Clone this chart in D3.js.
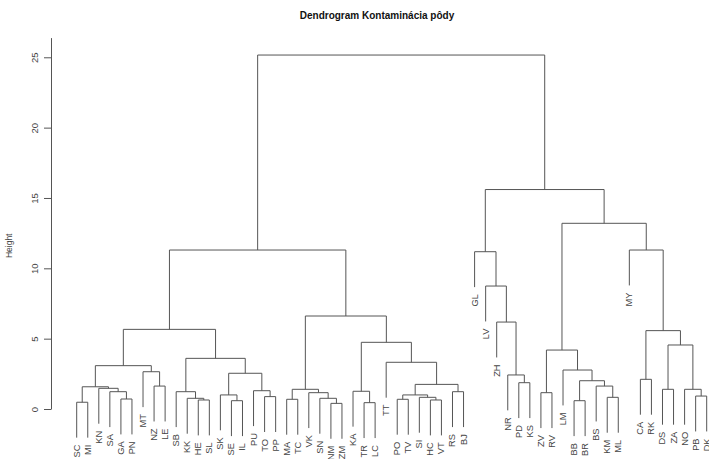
<!DOCTYPE html>
<html>
<head>
<meta charset="utf-8">
<script src="https://cdn.jsdelivr.net/npm/d3@7"></script>
<style>
  html, body { margin: 0; padding: 0; background: #fff; }
  svg { display: block; }
</style>
</head>
<body>
<script>
// ---- data ----
const title = "Dendrogram Kontaminácia pôdy";
const yLabel = "Height";
const leafOrder = ["SC","MI","KN","SA","GA","PN","MT","NZ","LE","SB","KK","HE","SL","SK","SE","IL","PU","TO","PP",
  "MA","TC","VK","SN","NM","ZM","KA","TR","LC","TT","PO","TV","SI","HC","VT","RS","BJ",
  "GL","LV","ZH","NR","PD","KS","ZV","RV","LM","BB","BR","BS","KM","ML","MY","CA","RK","DS","ZA","NO","PB","DK"];
// merges: [left, right, height]; "cN" refers to the cluster made by merge N (1-based)
const mergeLeft  = ["NM","TR","SC","SE","BB","HE","HC","MA","PO","GA","KK","SN","TO","SI","KM","PB","SK","c9","VK","ZV",
  "SA","SB","KA","RS","PU","c8","DS","NO","KN","c3","NZ","BS","c18","PD","c5","CA","NR","c17","MT","LM",
  "c30","TT","c22","c20","c27","c23","c36","c41","ZH","c26","LV","GL","MY","c48","c44","c52","c54"];
const mergeRight = ["ZM","LC","MI","IL","BR","SL","VT","TC","TV","PN","c6","c1","PP","c7","ML","DK","c4","c14","c12","RV",
  "c10","c11","c2","BJ","c13","c19","ZA","c16","c21","c29","LE","c15","c24","KS","c32","RK","c34","c25","c31","c35",
  "c39","c33","c38","c40","c28","c42","c45","c43","c37","c46","c49","c51","c47","c50","c53","c55","c56"];
const mergeHeight = [0.40,0.45,0.48,0.59,0.59,0.64,0.64,0.69,0.69,0.71,0.76,0.76,0.88,0.83,0.83,0.92,1.00,1.00,1.16,1.16,
  1.23,1.23,1.26,1.23,1.30,1.40,1.40,1.40,1.47,1.58,1.63,1.63,1.75,1.87,2.01,2.11,2.42,2.54,2.65,2.77,
  3.08,3.32,3.60,4.19,4.55,4.74,5.57,5.66,6.18,6.61,8.74,11.18,11.30,11.30,13.20,15.60,25.16];
const yTicks = [0, 5, 10, 15, 20, 25];

// ---- drawing ----
const W = 709, H = 459;
const svg = d3.select("body").append("svg").attr("width", W).attr("height", H);

const x = d3.scaleLinear().domain([1, leafOrder.length]).range([76.7, 706.7]);
const y = d3.scaleLinear().domain([0, 26.4]).range([409, 37.6]);
const hang = 0.1 * d3.max(mergeHeight);

const lineColor = "#555", textColor = "#444";

const nodes = {};
leafOrder.forEach((n, i) => nodes[n] = { x: x(i + 1), h: null, leaf: true, name: n });
const merges = mergeHeight.map((h, i) => ({ a: mergeLeft[i], b: mergeRight[i], h }));
merges.forEach((m, i) => {
  const A = nodes[m.a], B = nodes[m.b];
  nodes["c" + (i + 1)] = { x: (A.x + B.x) / 2, h: m.h, leaf: false };
});

const g = svg.append("g");
merges.forEach((m) => {
  const A = nodes[m.a], B = nodes[m.b];
  const ya = A.leaf ? y(m.h - hang) : y(A.h);
  const yb = B.leaf ? y(m.h - hang) : y(B.h);
  if (A.leaf) A.bottom = ya;
  if (B.leaf) B.bottom = yb;
  const p = d3.path();
  p.moveTo(A.x, ya); p.lineTo(A.x, y(m.h)); p.lineTo(B.x, y(m.h)); p.lineTo(B.x, yb);
  g.append("path").attr("d", p.toString()).attr("fill", "none")
    .attr("stroke", lineColor).attr("stroke-width", 1);
});

// leaf labels
leafOrder.forEach(n => {
  const L = nodes[n];
  svg.append("text")
    .attr("transform", `translate(${L.x},${L.bottom + 7}) rotate(-90)`)
    .attr("text-anchor", "end")
    .attr("y", 3)
    .attr("font-family", "Liberation Sans, Arial, sans-serif")
    .attr("font-size", 9.3)
    .attr("fill", textColor)
    .text(n);
});

// y axis
const axis = d3.axisLeft(y).tickValues(yTicks).tickSize(7).tickSizeOuter(0).tickFormat(d3.format("d"));
const ag = svg.append("g").attr("transform", "translate(51,0)").call(axis);
ag.select(".domain").attr("stroke", lineColor);
ag.selectAll(".tick line").attr("stroke", lineColor);
ag.selectAll(".tick text")
  .attr("transform", "rotate(-90)")
  .attr("x", 0).attr("y", -13.5).attr("dy", null)
  .attr("text-anchor", "middle")
  .attr("font-family", "Liberation Sans, Arial, sans-serif")
  .attr("font-size", 9.5)
  .attr("fill", textColor);

// axis title
svg.append("text")
  .attr("transform", `translate(12,${y(11.6)}) rotate(-90)`)
  .attr("text-anchor", "middle")
  .attr("font-family", "Liberation Sans, Arial, sans-serif")
  .attr("font-size", 8.5)
  .attr("fill", textColor)
  .text(yLabel);

// title
svg.append("text")
  .attr("x", 377).attr("y", 19)
  .attr("text-anchor", "middle")
  .attr("font-family", "Liberation Sans, Arial, sans-serif")
  .attr("font-size", 10)
  .attr("font-weight", "bold")
  .attr("fill", "#111")
  .text(title);
</script>
</body>
</html>
